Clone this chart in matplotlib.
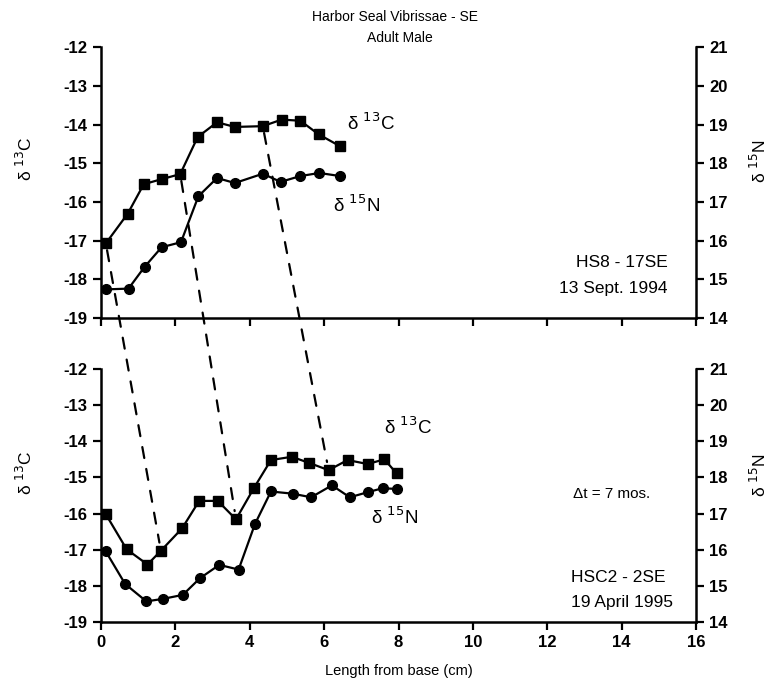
import numpy as np
import matplotlib
matplotlib.use('Agg')
import matplotlib.pyplot as plt
from matplotlib.patches import ConnectionPatch

plt.rcParams['font.family'] = ['Liberation Sans', 'DejaVu Sans']
plt.rcParams['axes.unicode_minus'] = False

# HS8 - 17SE, 13 Sept. 1994
top_x_c = [0.13, 0.72, 1.15, 1.63, 2.13, 2.6, 3.12, 3.6, 4.35, 4.86, 5.36, 5.85, 6.43]
top_c = [-17.07, -16.30, -15.54, -15.41, -15.28, -14.32, -13.94, -14.06, -14.04, -13.87, -13.90, -14.25, -14.56]
top_x_n = [0.13, 0.74, 1.17, 1.63, 2.15, 2.62, 3.12, 3.6, 4.35, 4.83, 5.36, 5.87, 6.43]
top_n = [14.74, 14.76, 15.32, 15.83, 15.96, 17.15, 17.62, 17.49, 17.73, 17.52, 17.67, 17.75, 17.67]

# HSC2 - 2SE, 19 April 1995
bot_x_c = [0.13, 0.69, 1.25, 1.61, 2.18, 2.64, 3.14, 3.63, 4.12, 4.57, 5.13, 5.6, 6.12, 6.63, 7.17, 7.62, 7.95]
bot_c = [-16.02, -16.99, -17.41, -17.03, -16.41, -15.65, -15.65, -16.16, -15.28, -14.52, -14.43, -14.6, -14.8, -14.52, -14.63, -14.5, -14.89]
bot_x_n = [0.13, 0.65, 1.22, 1.67, 2.2, 2.66, 3.18, 3.7, 4.14, 4.57, 5.15, 5.65, 6.21, 6.69, 7.17, 7.57, 7.97]
bot_n = [15.95, 15.05, 14.57, 14.64, 14.75, 15.21, 15.58, 15.45, 16.71, 17.61, 17.55, 17.45, 17.78, 17.45, 17.59, 17.70, 17.68]

# matching points (top index -> bottom index) joined by dashed lines
pairs = [(0, 3), (4, 7), (8, 12)]

fig = plt.figure(figsize=(7.8, 6.82), dpi=100)
ax_top = fig.add_axes([0.1295, 0.5337, 0.7628, 0.397])
ax_bot = fig.add_axes([0.1295, 0.088, 0.7628, 0.371])

tick_font = dict(fontsize=12, fontweight='bold')


def style(ax, ax2, show_xlabels):
    ax.set_xlim(0, 16)
    ax.set_ylim(-19, -12)
    ax2.set_ylim(14, 21)
    for a in (ax, ax2):
        a.spines['top'].set_visible(False)
        for s in a.spines.values():
            s.set_linewidth(1.8)
        a.tick_params(width=1.6, length=6, direction='out')
    ax.spines['right'].set_visible(False)
    ax2.spines['left'].set_visible(False)
    ax2.spines['bottom'].set_visible(False)
    ax.set_xticks(np.arange(0, 17, 2))
    ax.set_yticks(np.arange(-19, -11, 1))
    ax2.set_yticks(np.arange(14, 22, 1))
    ax.set_yticklabels([str(v) for v in range(-19, -11)], **tick_font)
    ax2.set_yticklabels([str(v) for v in range(14, 22)], **tick_font)
    if show_xlabels:
        ax.set_xticklabels([str(v) for v in range(0, 17, 2)], **tick_font)
    else:
        ax.set_xticklabels([])
    ax.set_ylabel('δ $^{13}$C', fontsize=12.5)
    ax.yaxis.set_label_coords(-0.111, 0.59)
    ax2.set_ylabel('δ $^{15}$N', fontsize=12.5, rotation=90)
    ax2.yaxis.set_label_coords(1.089, 0.58)


ax_top2 = ax_top.twinx()
ax_bot2 = ax_bot.twinx()
style(ax_top, ax_top2, False)
style(ax_bot, ax_bot2, True)

ax_top.plot(top_x_c, top_c, color='black', lw=1.6, marker='s', ms=7, zorder=3)
ax_top2.plot(top_x_n, top_n, color='black', lw=1.6, marker='o', ms=7, zorder=3)
ax_bot.plot(bot_x_c, bot_c, color='black', lw=1.6, marker='s', ms=7, zorder=3)
ax_bot2.plot(bot_x_n, bot_n, color='black', lw=1.6, marker='o', ms=7, zorder=3)

for i, j in pairs:
    con = ConnectionPatch(xyA=(top_x_c[i], top_c[i]), coordsA='data', axesA=ax_top,
                          xyB=(bot_x_c[j], bot_c[j]), coordsB='data', axesB=ax_bot,
                          color='black', lw=1.6, linestyle=(0, (5, 5)),
                          shrinkA=5, shrinkB=6)
    fig.add_artist(con)

ax_top.text(6.61, -13.96, 'δ $^{13}$C', fontsize=13.5, va='center')
ax_top.text(6.24, -16.08, 'δ $^{15}$N', fontsize=13.5, va='center')
ax_bot.text(7.62, -13.61, 'δ $^{13}$C', fontsize=13.5, va='center')
ax_bot.text(7.27, -16.1, 'δ $^{15}$N', fontsize=13.5, va='center')

ax_top.text(15.24, -17.56, 'HS8 - 17SE', fontsize=12.5, ha='right', va='center')
ax_top.text(15.24, -18.23, '13 Sept. 1994', fontsize=12.5, ha='right', va='center')
ax_bot.text(13.72, -15.46, 'Δt = 7 mos.', fontsize=11, ha='center', va='center')
ax_bot.text(13.9, -17.76, 'HSC2 - 2SE', fontsize=12.5, ha='center', va='center')
ax_bot.text(14.02, -18.45, '19 April 1995', fontsize=12.5, ha='center', va='center')

fig.text(0.506, 0.975, 'Harbor Seal Vibrissae - SE', fontsize=10, ha='center', va='center')
fig.text(0.513, 0.945, 'Adult Male', fontsize=10, ha='center', va='center')
ax_bot.set_xlabel('Length from base (cm)', fontsize=10.5, labelpad=10)

fig.savefig('out.png', dpi=100)
